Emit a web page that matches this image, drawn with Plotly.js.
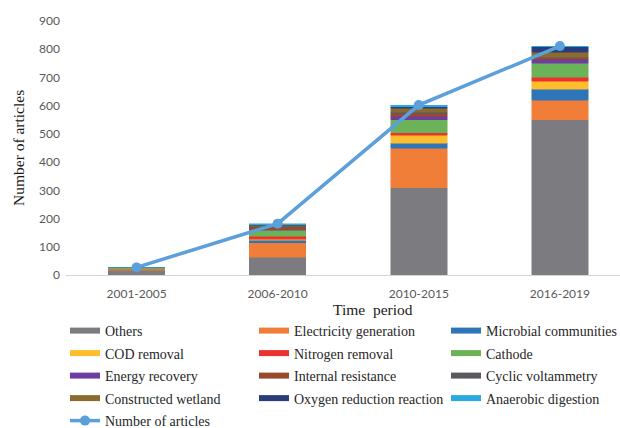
<!DOCTYPE html>
<html>
<head>
<meta charset="utf-8">
<script src="https://cdn.plot.ly/plotly-3.0.1.min.js"></script>
<style>html,body{margin:0;padding:0;background:#fff;}#chart{width:620px;height:428px;}</style>
</head>
<body>
<div id="chart"></div>
<script>
const periods = ['2001-2005', '2006-2010', '2010-2015', '2016-2019'];
const others = [17, 63, 310, 550];
const electricityGeneration = [3, 52, 140, 70];
const microbialCommunities = [1, 8, 16, 39];
const codRemoval = [0, 3, 30, 28];
const nitrogenRemoval = [1, 12, 8, 14];
const cathode = [4, 20, 47, 49];
const energyRecovery = [0, 3, 12, 15];
const internalResistance = [0, 8, 8, 5];
const cyclicVoltammetry = [0, 4, 6, 2];
const constructedWetland = [0, 3, 13, 17];
const oxygenReductionReaction = [0, 2, 6, 19];
const anaerobicDigestion = [0, 4, 6, 3];
const numberOfArticles = [27, 182, 602, 811];
const yTicks = [0, 100, 200, 300, 400, 500, 600, 700, 800, 900];

const series = [
  {name: 'Others', y: others, color: '#7b7b80', legend: 'legend'},
  {name: 'Electricity generation', y: electricityGeneration, color: '#f07e38', legend: 'legend2'},
  {name: 'Microbial communities', y: microbialCommunities, color: '#2e74b8', legend: 'legend3'},
  {name: 'COD removal', y: codRemoval, color: '#fdbd2c', legend: 'legend'},
  {name: 'Nitrogen removal', y: nitrogenRemoval, color: '#ec3230', legend: 'legend2'},
  {name: 'Cathode', y: cathode, color: '#6ab358', legend: 'legend3'},
  {name: 'Energy recovery', y: energyRecovery, color: '#6e3d9f', legend: 'legend'},
  {name: 'Internal resistance', y: internalResistance, color: '#9a4a2a', legend: 'legend2'},
  {name: 'Cyclic voltammetry', y: cyclicVoltammetry, color: '#5a5a5e', legend: 'legend3'},
  {name: 'Constructed wetland', y: constructedWetland, color: '#8c6c2e', legend: 'legend'},
  {name: 'Oxygen reduction reaction', y: oxygenReductionReaction, color: '#2b3d78', legend: 'legend2'},
  {name: 'Anaerobic digestion', y: anaerobicDigestion, color: '#2aaae2', legend: 'legend3'}
];

const data = [];
series.forEach(s => {
  data.push({
    type: 'bar', x: periods, y: s.y, name: s.name, showlegend: false,
    marker: {color: s.color, line: {color: s.color, width: 0.5}},
    hoverinfo: 'skip'
  });
});
series.forEach(s => {
  data.push({
    type: 'scatter', mode: 'lines', x: [null], y: [null], name: s.name,
    legend: s.legend, legendgroup: s.name,
    line: {color: s.color, width: 6}, showlegend: true, hoverinfo: 'skip'
  });
});
data.push({
  type: 'scatter', mode: 'lines+markers', x: periods, y: numberOfArticles,
  name: 'Number of articles', legend: 'legend', legendgroup: 'num',
  line: {color: '#5b9fdb', width: 3.5},
  marker: {color: '#5b9fdb', size: 10}
});

const serifFamily = '"Liberation Serif", "Times New Roman", serif';
const legendBase = {
  xref: 'container', yref: 'container', xanchor: 'left', yanchor: 'top',
  orientation: 'v', traceorder: 'grouped', tracegroupgap: 1.3,
  bgcolor: 'rgba(0,0,0,0)', borderwidth: 0, itemwidth: 30
};
function legendAt(px, py) {
  return Object.assign({}, legendBase, {
    x: px / 620, y: 1 - py / 428,
    font: {family: serifFamily, size: 14, color: '#262626'}
  });
}

const ML = 60, MT = 21, MB = 153, W = 620, H = 428;
const plotW = W - ML, plotH = H - MT - MB;
const px2paperX = px => (px - ML) / plotW;
const py2paperY = py => (H - MB - py) / plotH;

const layout = {
  width: W, height: H,
  margin: {l: ML, r: 0, t: MT, b: MB, autoexpand: false},
  font: {family: serifFamily, size: 14, color: '#262626'},
  paper_bgcolor: '#ffffff', plot_bgcolor: '#ffffff',
  barmode: 'stack', bargap: 0.6,
  xaxis: {
    type: 'category', range: [-0.5, 3.426], categoryarray: periods, categoryorder: 'array',
    domain: [px2paperX(66), 1],
    showline: true, linecolor: '#d4d4d4', linewidth: 1,
    showgrid: false, zeroline: false, ticks: '', automargin: false, ticklabelstandoff: 8,
    tickfont: {family: 'Lato, "Open Sans", sans-serif', size: 12, color: '#595959'}
  },
  yaxis: {
    range: [0, 900], tickvals: yTicks, ticktext: yTicks.map(String),
    anchor: 'free', position: px2paperX(52),
    showline: false, showgrid: false, zeroline: false, ticks: '', automargin: false,
    tickfont: {family: 'Lato, "Open Sans", sans-serif', size: 12, color: '#595959'}
  },
  annotations: [
    {text: 'Time  period', xref: 'paper', yref: 'paper', x: px2paperX(373), y: py2paperY(309),
     xanchor: 'center', yanchor: 'middle', showarrow: false,
     font: {family: serifFamily, size: 15.5, color: '#1a1a1a'}},
    {text: 'Number of articles', xref: 'paper', yref: 'paper', x: px2paperX(18), y: py2paperY(148),
     xanchor: 'center', yanchor: 'middle', showarrow: false, textangle: -90,
     font: {family: serifFamily, size: 15.5, color: '#1a1a1a'}}
  ],
  legend: legendAt(65, 315),
  legend2: legendAt(254, 315),
  legend3: legendAt(446, 315),
  showlegend: true
};

Plotly.newPlot('chart', data, layout, {displayModeBar: false, staticPlot: true});
</script>
</body>
</html>
